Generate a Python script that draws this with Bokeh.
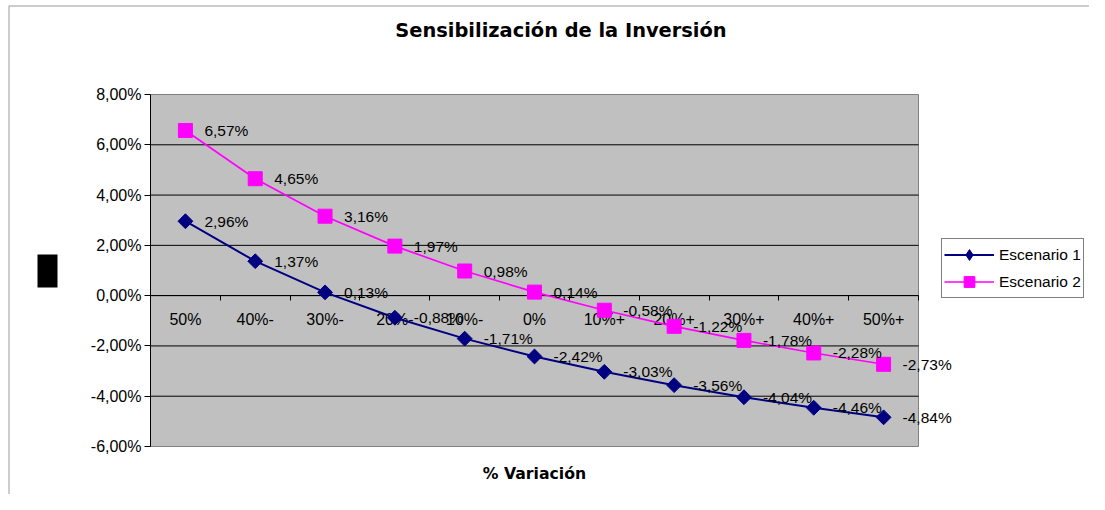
import numpy as np
from bokeh.plotting import figure
from bokeh.models import (Range1d, LinearAxis, FixedTicker, Legend, LegendItem, Label,
                          BoxAnnotation, ColumnDataSource)
from bokeh.core.properties import value
from bokeh.embed import file_html
from bokeh.resources import INLINE

# ---------------- data ----------------
categories = ["50%", "40%-", "30%-", "20%-", "10%-", "0%", "10%+", "20%+", "30%+", "40%+", "50%+"]
escenario_1 = [2.96, 1.37, 0.13, -0.88, -1.71, -2.42, -3.03, -3.56, -4.04, -4.46, -4.84]
escenario_2 = [6.57, 4.65, 3.16, 1.97, 0.98, 0.14, -0.58, -1.22, -1.78, -2.28, -2.73]
y_ticks = [-6, -4, -2, 0, 2, 4, 6, 8]
y_tick_labels = ["-6,00%", "-4,00%", "-2,00%", "0,00%", "2,00%", "4,00%", "6,00%", "8,00%"]
series_names = ["Escenario 1", "Escenario 2"]
title_text = "Sensibilización de la Inversión"
x_title = "% Variación"


def pct(v):
    return f"{v:.2f}".replace(".", ",") + "%"


n = len(categories)
xs = [i + 0.5 for i in range(n)]
y_min, y_max = y_ticks[0], y_ticks[-1]

# ---------------- layout (pixels) ----------------
W, H = 1089, 494
PL, PR, PT, PB = 150, 918, 94, 446          # plot-area box inside the canvas
ux = (PR - PL) / n
uy = (PB - PT) / (y_max - y_min)
x_range = Range1d(0 - PL / ux, n + (W - PR) / ux)
y_range = Range1d(y_min - (H - PB) / uy, y_max + PT / uy)

FONT = "Liberation Sans"
TFONT = "DejaVu Sans"
NAVY = "#000080"
MAGENTA = "#FF00FF"

p = figure(width=W, height=H, output_backend="svg", toolbar_location=None,
           x_range=x_range, y_range=y_range, x_axis_type=None, y_axis_type=None,
           min_border=0, min_border_left=0, min_border_right=0,
           min_border_top=0, min_border_bottom=0)
p.background_fill_color = "white"
p.border_fill_color = "white"
p.outline_line_color = None

# grey plot area
p.quad(left=0, right=n, bottom=y_min, top=y_max, fill_color="#C0C0C0",
       line_color="#808080", line_width=1, level="image")

# horizontal gridlines across the plot area only
grid_ys = y_ticks[1:-1]
p.segment(x0=0, x1=n, y0=grid_ys, y1=grid_ys, line_color="black", line_width=1,
          level="underlay")

# y axis at x = 0
yaxis = LinearAxis(ticker=FixedTicker(ticks=y_ticks), fixed_location=0, bounds=(y_min, y_max),
                   major_label_overrides={t: l for t, l in zip(y_ticks, y_tick_labels)},
                   axis_line_color="black", major_tick_line_color="black",
                   major_tick_out=6, major_tick_in=0, minor_tick_line_color=None,
                   major_label_standoff=3, major_label_text_font=FONT,
                   major_label_text_font_size="16px", major_label_text_color="black")
p.add_layout(yaxis, "left")

# category axis fixed at y = 0 (ticks at category boundaries)
xtick_axis = LinearAxis(ticker=FixedTicker(ticks=list(range(n + 1))), fixed_location=0,
                        bounds=(0, n),
                        major_label_overrides={i: "" for i in range(n + 1)},
                        axis_line_color="black", major_tick_line_color="black",
                        major_tick_out=5, major_tick_in=0, minor_tick_line_color=None,
                        level="underlay")
p.add_layout(xtick_axis, "below")
xlab_axis = LinearAxis(ticker=FixedTicker(ticks=xs), fixed_location=0, bounds=(0, n),
                       major_label_overrides={x: c for x, c in zip(xs, categories)},
                       axis_line_color=None, major_tick_line_color=None, minor_tick_line_color=None,
                       major_label_standoff=9, major_label_text_font=FONT,
                       major_label_text_font_size="16px", major_label_text_color="black",
                       level="underlay")
p.add_layout(xlab_axis, "below")

# titles
p.add_layout(Label(x=560.5, y=H - 30, x_units="screen", y_units="screen", text=title_text,
                   text_font=TFONT, text_font_style="bold", text_font_size="19.4px",
                   text_color="black", text_align="center", text_baseline="middle"))
p.add_layout(Label(x=(PL + PR) / 2, y=H - 473, x_units="screen", y_units="screen", text=x_title,
                   text_font=TFONT, text_font_style="bold", text_font_size="15.7px",
                   text_color="black", text_align="center", text_baseline="middle"))

# series
src1 = ColumnDataSource(dict(x=xs, y=escenario_1, label=[pct(v) for v in escenario_1]))
src2 = ColumnDataSource(dict(x=xs, y=escenario_2, label=[pct(v) for v in escenario_2]))

r1l = p.line("x", "y", source=src1, line_color=NAVY, line_width=2)
# legend-only diamond (legend markers are drawn unrotated); hidden under the first marker
proxy_src = ColumnDataSource(dict(x=xs[:1], y=escenario_1[:1]))
r1proxy = p.scatter("x", "y", source=proxy_src, marker="diamond", size=10,
                    fill_color=NAVY, line_color=NAVY)
r1m = p.scatter("x", "y", source=src1, marker="square", angle=np.pi / 4, size=10.5,
                fill_color=NAVY, line_color=NAVY)
r2l = p.line("x", "y", source=src2, line_color=MAGENTA, line_width=1.7)
r2m = p.scatter("x", "y", source=src2, marker="square", size=14,
                fill_color=MAGENTA, line_color=MAGENTA)

for src in (src1, src2):
    p.text("x", "y", text="label", source=src, x_offset=19, text_baseline="middle",
           text_align="left", text_font=value(FONT), text_font_size="15.5px", text_color="black")

legend = Legend(items=[LegendItem(label=series_names[0], renderers=[r1l, r1proxy]),
                       LegendItem(label=series_names[1], renderers=[r2l, r2m])],
                location=(941, H - 298), orientation="vertical",
                border_line_color="black", border_line_width=1,
                background_fill_color="white", background_fill_alpha=1,
                padding=2, spacing=-2, margin=0, glyph_width=50, glyph_height=27,
                label_height=20, label_standoff=5, label_text_font=FONT,
                label_text_font_size="15.5px", label_text_color="black")
p.add_layout(legend)

# chart-area border and the stray black block
p.add_layout(BoxAnnotation(left=8.5, top=H - 5.5, right=5000, bottom=-5000,
                           left_units="screen", right_units="screen",
                           top_units="screen", bottom_units="screen",
                           fill_alpha=0, line_color="#222222", line_width=1.5, level="overlay"))
p.add_layout(BoxAnnotation(left=37, right=57, top=H - 254, bottom=H - 287,
                           left_units="screen", right_units="screen",
                           top_units="screen", bottom_units="screen",
                           fill_color="black", fill_alpha=1, line_color="black",
                           line_width=0, level="overlay"))

open("out.html", "w").write(file_html(p, INLINE))
